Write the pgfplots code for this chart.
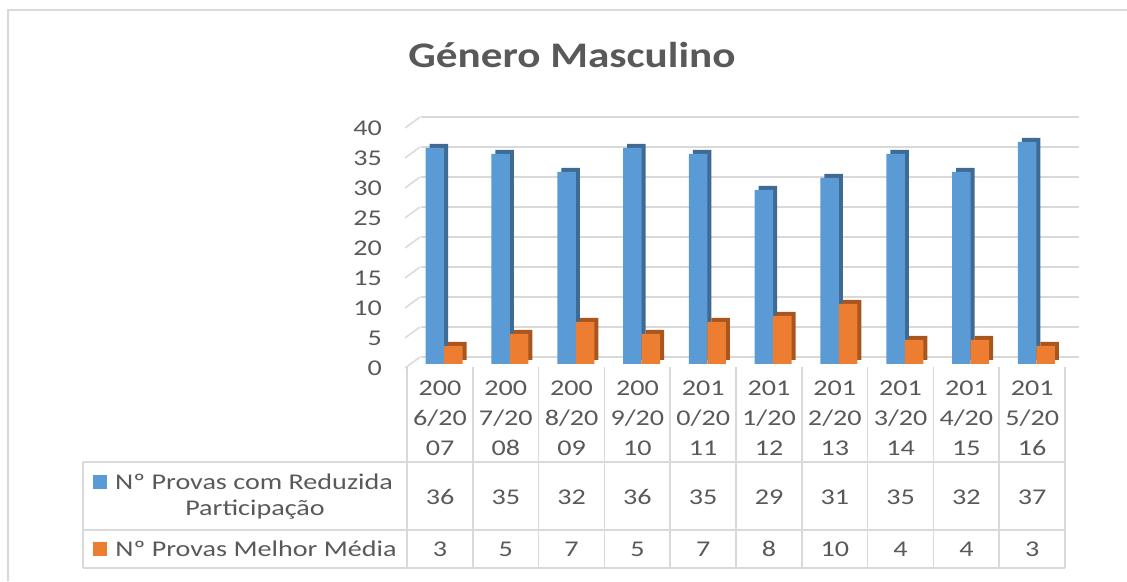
\documentclass[border=0pt]{standalone}
\usepackage{pgfplots}
\pgfplotsset{compat=1.18}
\usepackage{fontspec}
\setmainfont{Carlito}[FakeStretch=1.25]
\newfontfamily\titlefont{Carlito}[FakeStretch=1.2]
\definecolor{blueF}{HTML}{5B9BD5}
\definecolor{blueD}{HTML}{3F6A94}
\definecolor{orangeF}{HTML}{ED7D31}
\definecolor{orangeD}{HTML}{A8561E}
\definecolor{txt}{HTML}{595959}
\definecolor{gridgray}{HTML}{D9D9D9}
\begin{document}
\begin{tikzpicture}[x=1pt,y=1pt]
\path[use as bounding box] (0,0) rectangle (1127,581);
\draw[gridgray, line width=1.5pt] (8,0) -- (8,571) -- (1127,571);
\node[anchor=base, text=txt, font=\titlefont\bfseries\fontsize{36}{40}\selectfont, inner sep=0pt] at (572,513) {Género Masculino};

\begin{axis}[at={(407pt,217pt)}, anchor=south west, scale only axis,
  width=658pt, height=240pt, xmin=-0.5, xmax=9.5, ymin=0, ymax=40, clip=false,
  axis line style={draw=none}, tick style={draw=none}, xtick=\empty,
  ytick={0,5,10,15,20,25,30,35,40}, ymajorgrids,
  major grid style={draw=gridgray, line width=1.5pt, xshift=14pt, yshift=7pt},
  yticklabel style={anchor=east, inner sep=0pt, xshift=-25pt, yshift=-4pt, text=txt, font=\fontsize{22.5}{26}\selectfont},
  /pgf/number format/assume math mode=true]
\addplot[ybar, bar width=18.5pt, bar shift=-1pt, fill=blueD, draw=none, yshift=4pt]
  coordinates {(0,36)(1,35)(2,32)(3,36)(4,35)(5,29)(6,31)(7,35)(8,32)(9,37)};
\addplot[ybar, bar width=18.5pt, bar shift=-5pt, fill=blueF, draw=none]
  coordinates {(0,36)(1,35)(2,32)(3,36)(4,35)(5,29)(6,31)(7,35)(8,32)(9,37)};
\addplot[ybar, bar width=18.5pt, bar shift=17.5pt, fill=orangeD, draw=none, yshift=4pt]
  coordinates {(0,3)(1,5)(2,7)(3,5)(4,7)(5,8)(6,10)(7,4)(8,4)(9,3)};
\addplot[ybar, bar width=18.5pt, bar shift=13.5pt, fill=orangeF, draw=none]
  coordinates {(0,3)(1,5)(2,7)(3,5)(4,7)(5,8)(6,10)(7,4)(8,4)(9,3)};
\pgfplotsinvokeforeach{0,5,10,15,20,25,30,35,40}{
  \draw[gridgray, line width=1.5pt] ([xshift=-2pt,yshift=-4pt]axis cs:-0.5,#1) -- ([xshift=13pt,yshift=7pt]axis cs:-0.5,#1);
}
\end{axis}

% data table
\begin{scope}[gridgray, line width=1.5pt]
\foreach \k in {0,...,10} { \draw (407+65.8*\k,214) -- (407+65.8*\k,13); }
\draw (83,119) -- (1065,119);
\draw (83,51) -- (1065,51);
\draw (83,13) -- (1065,13);
\draw (83,119) -- (83,13);
\end{scope}
\begin{scope}[every node/.style={text=txt, font=\fontsize{22.5}{27}\selectfont, inner sep=0pt}]
\foreach \a/\b/\c [count=\i from 0] in {200/6/07, 200/7/08, 200/8/09, 200/9/10, 201/0/11, 201/1/12, 201/2/13, 201/3/14, 201/4/15, 201/5/16} {
  \node at (440+65.8*\i,193) {\a};
  \node at (440+65.8*\i,163) {\b/20};
  \node at (440+65.8*\i,133) {\c};
}
\foreach \v [count=\i from 0] in {36,35,32,36,35,29,31,35,32,37} {
  \node at (440+65.8*\i,84) {\v};
}
\foreach \v [count=\i from 0] in {3,5,7,5,7,8,10,4,4,3} {
  \node at (440+65.8*\i,32) {\v};
}
\fill[blueF] (93,92) rectangle (107,106);
\node at (254,99) {Nº Provas com Reduzida};
\node at (255,71) {Participação};
\fill[orangeF] (93,25) rectangle (107,39);
\node at (256,32) {Nº Provas Melhor Média};
\end{scope}
\end{tikzpicture}
\end{document}
